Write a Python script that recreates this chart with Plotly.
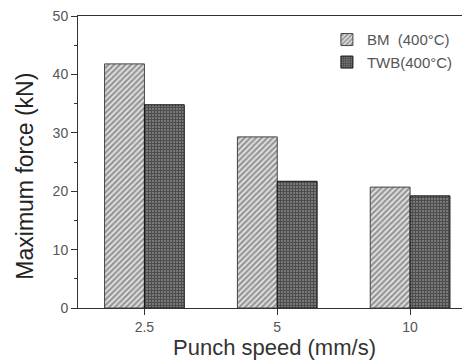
import plotly.graph_objects as go

categories = ["2.5", "5", "10"]
bm_values = [41.8, 29.3, 20.7]
twb_values = [34.8, 21.7, 19.2]
series_names = ["BM\u00a0\u00a0(400\u00b0C)", "TWB(400\u00b0C)"]
y_ticks = [0, 10, 20, 30, 40, 50]
x_title = "Punch speed (mm/s)"
y_title = "Maximum force (kN)"

FONT = "Arial, Liberation Sans, sans-serif"

fig = go.Figure()
fig.add_trace(go.Bar(
    x=categories, y=bm_values, name=series_names[0],
    marker=dict(color="white", line=dict(color="#444", width=1),
                pattern=dict(shape="/", fgcolor="#444", bgcolor="#e6e6e6",
                             size=4, solidity=0.55)),
))
fig.add_trace(go.Bar(
    x=categories, y=twb_values, name=series_names[1],
    marker=dict(color="#333", line=dict(color="#111", width=1),
                pattern=dict(shape="+", fgcolor="#000", bgcolor="#9a9a9a",
                             size=3, solidity=0.75)),
))

axis_font = dict(family=FONT, size=14, color="#555")
fig.update_layout(
    width=462, height=355,
    margin=dict(l=70, r=0, t=8, b=55),
    paper_bgcolor="white", plot_bgcolor="white",
    barmode="group", bargap=0.4, bargroupgap=0,
    showlegend=True,
    legend=dict(x=0.635, y=0.975, xanchor="left", yanchor="top",
                bgcolor="rgba(0,0,0,0)",
                font=dict(family=FONT, size=15, color="#555"),
                tracegroupgap=2),
    xaxis=dict(
        type="category", range=[-0.5, 2.451],
        showline=True, linecolor="#333", linewidth=1, mirror=True,
        ticks="outside", ticklen=6, tickcolor="#333",
        minor=dict(ticks="outside", ticklen=3, tickcolor="#333"),
        tickfont=axis_font, showgrid=False, ticklabeloverflow="allow",
    ),
    yaxis=dict(
        range=[0, 50], tickvals=y_ticks,
        showline=True, linecolor="#333", linewidth=1,
        ticks="outside", ticklen=6, tickcolor="#333",
        minor=dict(dtick=5, ticks="outside", ticklen=3, tickcolor="#333"),
        tickfont=axis_font, showgrid=False, zeroline=False,
        ticklabeloverflow="allow",
    ),
    annotations=[
        dict(text=x_title, xref="paper", yref="paper", x=0.5, y=-0.134,
             xanchor="center", yanchor="middle", showarrow=False,
             font=dict(family=FONT, size=22, color="#333")),
        dict(text=y_title, xref="paper", yref="paper", x=-0.135, y=0.45,
             xanchor="center", yanchor="middle", showarrow=False, textangle=-90,
             font=dict(family=FONT, size=23, color="#222")),
    ],
)

fig.write_html("out.html")
